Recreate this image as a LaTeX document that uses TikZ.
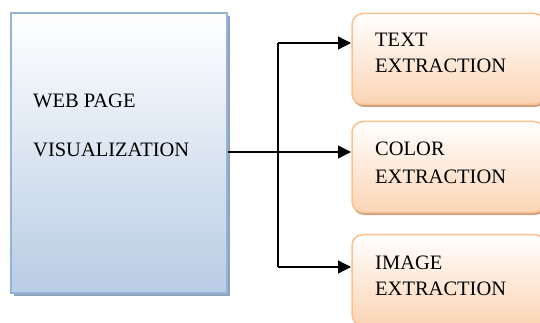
\documentclass[tikz,border=0pt]{standalone}
\usepackage{fontspec}
\setmainfont{Liberation Serif}
\usetikzlibrary{arrows.meta,shadows}
\definecolor{blueborder}{HTML}{95B3D7}
\definecolor{bluebottom}{HTML}{B8CCE4}
\definecolor{blueshadow}{HTML}{8FA2BE}
\definecolor{orangeborder}{HTML}{FAC08F}
\definecolor{orangebottom}{HTML}{FBD4B4}
\definecolor{orangeshadow}{HTML}{C9A183}
\tikzset{
  bluebox/.style={draw=blueborder, line width=1.5pt, rectangle,
    top color=white, bottom color=bluebottom,
    drop shadow={shadow xshift=3pt, shadow yshift=-3pt, fill=blueshadow, opacity=1}},
  orangebox/.style={draw=orangeborder, line width=1.5pt, rectangle, rounded corners=11pt,
    top color=white, bottom color=orangebottom,
    minimum width=193pt, minimum height=91pt,
    drop shadow={shadow xshift=1pt, shadow yshift=-2.5pt, fill=orangeshadow, opacity=1}},
  lbl/.style={inner sep=0pt, anchor=base west, font=\fontsize{20.5}{24}\selectfont},
  conn/.style={line width=1.3pt, -{Triangle[length=13pt,width=13pt]}},
  wire/.style={line width=1.3pt}
}
\begin{document}
\begin{tikzpicture}[x=1pt,y=-1pt]
\useasboundingbox (0,0) rectangle (540,323);
\node[bluebox, minimum width=216pt, minimum height=280pt] (web) at (119,153) {};
\node[orangebox] (textbox) at (448.5,59) {};
\node[orangebox] (colorbox) at (448.5,167) {};
\node[orangebox] (imagebox) at (448.5,280) {};

\node[lbl] (w1) at (33,108) {WEB PAGE};
\node[lbl] (w2) at (33,157) {VISUALIZATION};
\node[lbl] (t1) at (375,47) {TEXT};
\node[lbl] (t2) at (375,73) {EXTRACTION};
\node[lbl] (c1) at (375,156) {COLOR};
\node[lbl] (c2) at (375,183) {EXTRACTION};
\node[lbl] (i1) at (375,269) {IMAGE};
\node[lbl] (i2) at (375,295) {EXTRACTION};

\coordinate (split) at (278,152);
\coordinate (tin) at (351,43);
\coordinate (cin) at (351,152);
\coordinate (iin) at (351,267);
\coordinate (wout) at (227.5,152);
\draw[conn] (wout) -- (cin);
\draw[wire] (tin -| split) -- (iin -| split);
\draw[conn] (tin -| split) -- (tin);
\draw[conn] (iin -| split) -- (iin);
\end{tikzpicture}
\end{document}
